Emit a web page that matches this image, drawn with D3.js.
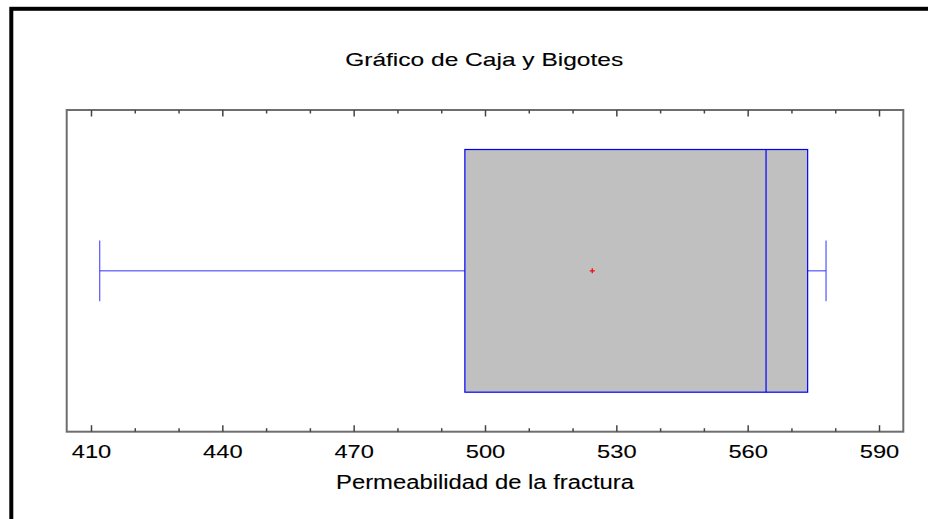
<!DOCTYPE html>
<html>
<head>
<meta charset="utf-8">
<script src="https://cdn.jsdelivr.net/npm/d3@7"></script>
<style>
  html, body { margin: 0; padding: 0; background: #fff; }
  svg { display: block; }
  text { font-family: "Liberation Sans", Arial, sans-serif; fill: #000; stroke: #000; stroke-width: 0.12px; }
</style>
</head>
<body>
<svg id="chart" width="928" height="519"></svg>
<script>
// ---- data ----
const categories = ["Permeabilidad de la fractura"];
const minValues = [412.0];
const q1Values = [495.4];
const medianValues = [564.2];
const q3Values = [573.7];
const maxValues = [577.9];
const meanValues = [524.5];
const majorTicks = [410, 440, 470, 500, 530, 560, 590];
const minorTicks = [420, 430, 450, 460, 480, 490, 510, 520, 540, 550, 570, 580];
const titleText = "Gráfico de Caja y Bigotes";
const xLabelText = "Permeabilidad de la fractura";

// ---- layout ----
const W = 928, H = 519;
const plot = { left: 66.7, right: 903.3, top: 110, bottom: 431.7 };

const svg = d3.select("#chart");

// outer frame
svg.append("rect")
  .attr("x", 11.3).attr("y", 8.8)
  .attr("width", W + 20).attr("height", H + 20)
  .attr("fill", "none").attr("stroke", "#000").attr("stroke-width", 4);

const x = d3.scaleLinear().domain([404.45, 595.55]).range([plot.left, plot.right]);
const y = d3.scaleBand().domain(categories).range([plot.top, plot.bottom]).padding(0.14);

// title
svg.append("text")
  .attr("x", 484.2).attr("y", 66)
  .attr("text-anchor", "middle")
  .attr("font-size", 18.5)
  .attr("textLength", 278).attr("lengthAdjust", "spacingAndGlyphs")
  .text(titleText);

// plot frame
svg.append("rect")
  .attr("x", plot.left).attr("y", plot.top)
  .attr("width", plot.right - plot.left).attr("height", plot.bottom - plot.top)
  .attr("fill", "none").attr("stroke", "#6e6e6e").attr("stroke-width", 2);

// bottom axis (ticks pointing inward)
const axisBottom = d3.axisBottom(x).tickValues(majorTicks).tickSize(-6.5).tickFormat(d3.format("d"));
const gb = svg.append("g").attr("transform", `translate(0,${plot.bottom})`).call(axisBottom);
gb.select(".domain").remove();
gb.selectAll(".tick line").attr("stroke", "#444").attr("stroke-width", 1.5);
gb.selectAll(".tick text")
  .attr("y", 26.2).attr("dy", null)
  .attr("font-size", 19)
  .attr("font-family", "Liberation Sans, Arial, sans-serif")
  .attr("fill", "#000")
  .attr("textLength", 39.5).attr("lengthAdjust", "spacingAndGlyphs");
const gbm = svg.append("g").attr("transform", `translate(0,${plot.bottom})`)
  .call(d3.axisBottom(x).tickValues(minorTicks).tickSize(-3.5).tickFormat(""));
gbm.select(".domain").remove();
gbm.selectAll(".tick line").attr("stroke", "#444").attr("stroke-width", 1.5);

// top axis (ticks pointing inward)
const gt = svg.append("g").attr("transform", `translate(0,${plot.top})`)
  .call(d3.axisTop(x).tickValues(majorTicks).tickSize(-6.5).tickFormat(""));
gt.select(".domain").remove();
gt.selectAll(".tick line").attr("stroke", "#444").attr("stroke-width", 1.5);
const gtm = svg.append("g").attr("transform", `translate(0,${plot.top})`)
  .call(d3.axisTop(x).tickValues(minorTicks).tickSize(-3.5).tickFormat(""));
gtm.select(".domain").remove();
gtm.selectAll(".tick line").attr("stroke", "#444").attr("stroke-width", 1.5);

// x label
svg.append("text")
  .attr("x", 485).attr("y", 488.5)
  .attr("text-anchor", "middle")
  .attr("font-size", 19.5)
  .attr("textLength", 298).attr("lengthAdjust", "spacingAndGlyphs")
  .text(xLabelText);

// box plot
const boxes = categories.map((c, i) => ({
  c, min: minValues[i], q1: q1Values[i], med: medianValues[i],
  q3: q3Values[i], max: maxValues[i], mean: meanValues[i]
}));

const g = svg.append("g").selectAll("g").data(boxes).join("g");
const cy = d => y(d.c) + y.bandwidth() / 2;
const capH = d => y.bandwidth() / 4;

// whiskers
g.append("line")
  .attr("x1", d => x(d.min)).attr("x2", d => x(d.q1))
  .attr("y1", cy).attr("y2", cy)
  .attr("stroke", "#3333ff").attr("stroke-width", 1);
g.append("line")
  .attr("x1", d => x(d.q3)).attr("x2", d => x(d.max))
  .attr("y1", cy).attr("y2", cy)
  .attr("stroke", "#3333ff").attr("stroke-width", 1);
g.append("line")
  .attr("x1", d => x(d.min)).attr("x2", d => x(d.min))
  .attr("y1", d => cy(d) - capH(d) / 2).attr("y2", d => cy(d) + capH(d) / 2)
  .attr("stroke", "#3333ff").attr("stroke-width", 1);
g.append("line")
  .attr("x1", d => x(d.max)).attr("x2", d => x(d.max))
  .attr("y1", d => cy(d) - capH(d) / 2).attr("y2", d => cy(d) + capH(d) / 2)
  .attr("stroke", "#3333ff").attr("stroke-width", 1);

// box
g.append("rect")
  .attr("x", d => x(d.q1)).attr("y", d => y(d.c))
  .attr("width", d => x(d.q3) - x(d.q1)).attr("height", y.bandwidth())
  .attr("fill", "#c0c0c0").attr("stroke", "#0000ff").attr("stroke-width", 1.2);

// median
g.append("line")
  .attr("x1", d => x(d.med)).attr("x2", d => x(d.med))
  .attr("y1", d => y(d.c)).attr("y2", d => y(d.c) + y.bandwidth())
  .attr("stroke", "#0000ff").attr("stroke-width", 1.2);

// mean marker
g.append("path")
  .attr("d", d => {
    const mx = x(d.mean), my = cy(d), s = 2.5;
    return `M${mx - s},${my}H${mx + s}M${mx},${my - s}V${my + s}`;
  })
  .attr("stroke", "#ff0000").attr("stroke-width", 1.2).attr("fill", "none");
</script>
</body>
</html>
